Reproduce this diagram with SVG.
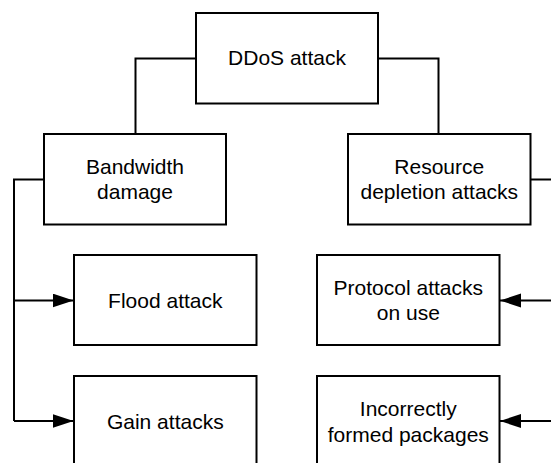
<svg xmlns="http://www.w3.org/2000/svg" width="551" height="463" viewBox="0 0 551 463">
<style>
.box{fill:#fff;stroke:#000;stroke-width:2}
.lbl{font-family:"Liberation Sans",Arial,sans-serif;font-size:21px;fill:#000;text-anchor:middle}
.con{fill:none;stroke:#000;stroke-width:2}
</style>
<defs>
<marker id="arr" markerUnits="userSpaceOnUse" markerWidth="22" markerHeight="16" refX="21" refY="7" orient="auto">
<path d="M0,0 L21,7 L0,14 Z" fill="#000"/>
</marker>
</defs>
<rect width="551" height="463" fill="#fff"/>
<g id="connectors">
<path class="con" d="M196,58.5 H135.5 V134"/>
<path class="con" d="M378,58.5 H438.5 V134"/>
<path class="con" d="M44,179.5 H14 V421"/>
<path class="con" d="M14,300.5 H73.5" marker-end="url(#arr)"/>
<path class="con" d="M14,421 H73.5" marker-end="url(#arr)"/>
<path class="con" d="M530.5,179.5 H560"/>
<path class="con" d="M560,300.5 H500" marker-end="url(#arr)"/>
<path class="con" d="M560,421 H500" marker-end="url(#arr)"/>
</g>
<g id="ddos">
<rect class="box" x="196" y="13" width="182" height="90.5"/>
<text class="lbl" x="287" y="64.5">DDoS attack</text>
</g>
<g id="bandwidth">
<rect class="box" x="44" y="134" width="182" height="90.5"/>
<text class="lbl" x="135" y="173.5">Bandwidth</text>
<text class="lbl" x="135" y="198.5">damage</text>
</g>
<g id="resource">
<rect class="box" x="348" y="134" width="182.5" height="90.5"/>
<text class="lbl" x="439.3" y="173.5">Resource</text>
<text class="lbl" x="439.3" y="198.5">depletion attacks</text>
</g>
<g id="flood">
<rect class="box" x="74" y="255" width="182.5" height="90"/>
<text class="lbl" x="165.3" y="308">Flood attack</text>
</g>
<g id="protocol">
<rect class="box" x="317" y="255" width="182.5" height="90"/>
<text class="lbl" x="408.3" y="294.5">Protocol attacks</text>
<text class="lbl" x="408.3" y="320">on use</text>
</g>
<g id="gain">
<rect class="box" x="74" y="376" width="182.5" height="95"/>
<text class="lbl" x="165.3" y="428.5">Gain attacks</text>
</g>
<g id="incorrect">
<rect class="box" x="317" y="376" width="182.5" height="95"/>
<text class="lbl" x="408.3" y="415.5">Incorrectly</text>
<text class="lbl" x="408.3" y="441.5">formed packages</text>
</g>
</svg>
